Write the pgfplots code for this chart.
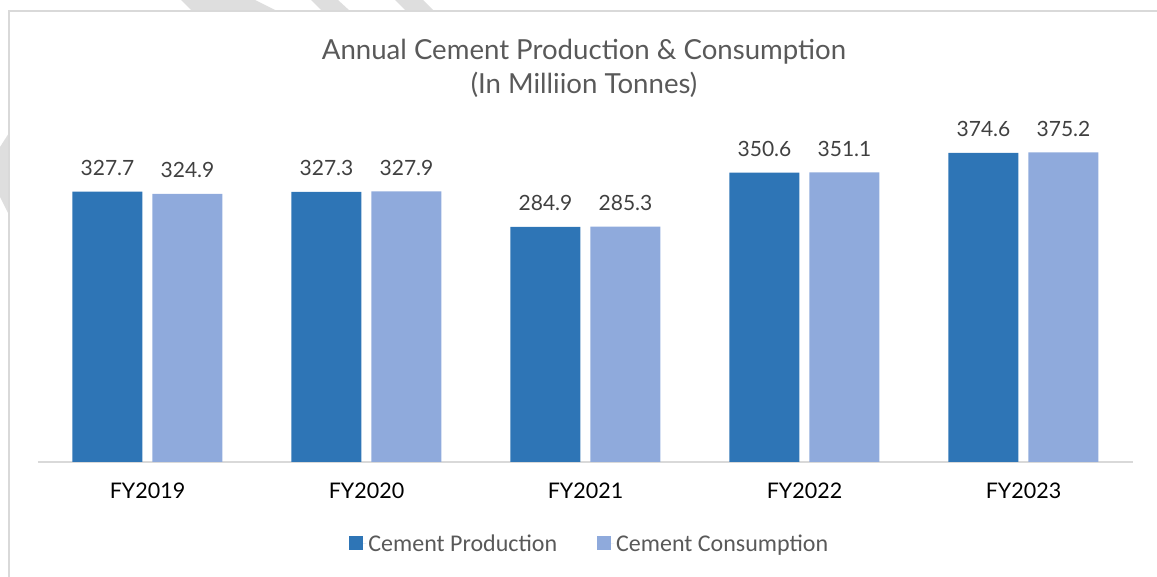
\documentclass[border=0pt]{standalone}
\usepackage{fontspec}
\usepackage{pgfplots}
\pgfplotsset{compat=1.18}
\newfontfamily\lato{Lato}
\newfontfamily\carlito{Carlito}
\definecolor{cprod}{HTML}{2E75B6}
\definecolor{ccons}{HTML}{8FAADC}
\definecolor{ctitle}{HTML}{595959}
\definecolor{clab}{HTML}{404040}
\definecolor{cgrid}{HTML}{D9D9D9}
\definecolor{cwm}{HTML}{DEDEDE}
\begin{document}
\begin{tikzpicture}[x=1pt,y=1pt]
\path[use as bounding box] (0,0) rectangle (1157,577);
% watermark fragments
\fill[cwm] (181,577) -- (219,577) -- (231,566) -- (192,566) -- cycle;
\fill[cwm] (208,577) -- (255,577) -- (277,566) -- (231,566) -- cycle;
\fill[cwm] (311,577) -- (338,577) -- (350,566) -- (322,566) -- cycle;
\fill[cwm] (395,577) -- (423,577) -- (434,566) -- (406,566) -- cycle;
\fill[cwm] (0,430) -- (9,444) -- (9,362) -- (0,380) -- cycle;
% border
\draw[cgrid, line width=1.5pt] (9,0) -- (9,566) -- (1157,566);
% title
\node[anchor=base, text=ctitle, font=\lato\fontsize{27.6}{32}\selectfont] at (584,517) {Annual Cement Production \& Consumption};
\node[anchor=base, text=ctitle, font=\lato\fontsize{27.6}{32}\selectfont] at (584,483) {(In Milliion Tonnes)};
\begin{axis}[
  at={(38pt,115pt)}, anchor=south west,
  width=1095pt, height=330pt, scale only axis,
  xmin=-0.5, xmax=4.5, ymin=0, ymax=400,
  axis y line=none, axis x line*=bottom,
  x axis line style={cgrid, line width=1.5pt, -},
  xtick={0,1,2,3,4},
  xticklabels={FY2019,FY2020,FY2021,FY2022,FY2023},
  major tick length=0pt,
  every x tick label/.append style={anchor=base, yshift=-37pt, text=black, font=\lato\fontsize{21.5}{25}\selectfont},
  ybar=10pt, bar width=70pt,
  /pgf/number format/assume math mode=true,
  /pgf/number format/fixed,
  /pgf/number format/fixed zerofill,
  /pgf/number format/precision=1,
  /pgf/number format/1000 sep={},
  nodes near coords,
  every node near coord/.append style={anchor=base, yshift=16pt, text=clab, font=\lato\fontsize{21}{25}\selectfont},
  legend style={at={(0.504,-0.248)}, anchor=center, draw=none, fill=none,
    legend columns=2, font=\carlito\fontsize{24}{28}\selectfont, text=ctitle,
    /tikz/every even column/.append style={column sep=38pt},
    inner sep=0pt},
  legend image code/.code={\fill[#1] (0pt,-6pt) rectangle (14pt,8pt); \path (0pt,0pt) -- (17pt,0pt);},
  clip=false,
]
\addplot[fill=cprod, draw=none] coordinates {(0,327.7) (1,327.3) (2,284.9) (3,350.6) (4,374.6)};
\addplot[fill=ccons, draw=none] coordinates {(0,324.9) (1,327.9) (2,285.3) (3,351.1) (4,375.2)};
\legend{Cement Production, Cement Consumption}
\end{axis}
\end{tikzpicture}
\end{document}
